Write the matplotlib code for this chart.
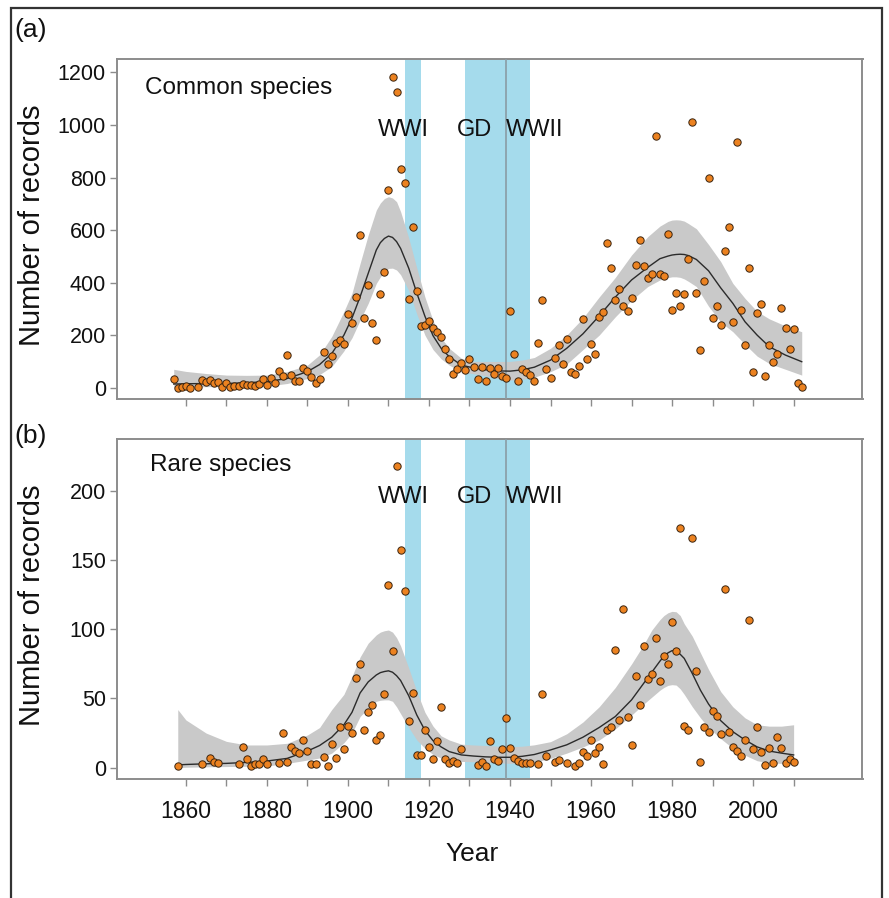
import matplotlib
matplotlib.use("Agg")
import matplotlib.pyplot as plt
from matplotlib.patches import Rectangle

plt.rcParams['font.family'] = ['Liberation Sans', 'DejaVu Sans']

# ---- observed yearly records -------------------------------------------
years_a = list(range(1857, 1862)) + list(range(1863, 2013))
records_a = [
    32, 0, 4, 6, 0,                                   # 1857-1861
    4, 29, 20, 29, 17, 22, 4,                         # 1863-1869
    17, 4, 6, 6, 13, 10, 9, 6, 13, 32,                # 1870s
    9, 36, 19, 65, 44, 124, 48, 27, 27, 76,           # 1880s
    63, 41, 19, 32, 136, 89, 120, 172, 181, 165,      # 1890s
    280, 245, 345, 580, 264, 389, 245, 181, 355, 441, # 1900s
    754, 1184, 1127, 831, 779, 336, 611, 367, 236, 237,
    253, 228, 212, 194, 146, 110, 52, 71, 93, 67,
    108, 80, 34, 80, 25, 74, 52, 74, 44, 36,
    291, 128, 25, 70, 60, 47, 25, 172, 333, 71,
    38, 113, 161, 91, 184, 61, 52, 81, 260, 108,
    165, 128, 270, 288, 551, 456, 332, 374, 312, 293,
    342, 466, 561, 462, 418, 431, 958, 431, 426, 585,
    295, 361, 312, 355, 489, 1010, 359, 143, 405, 797,
    266, 310, 239, 521, 612, 251, 937, 295, 163, 454,
    58, 285, 317, 43, 162, 96, 127, 302, 228, 147,
    224, 18, 1,
]

years_b = [1858, 1864, 1866, 1867, 1868, 1873, 1874, 1875, 1876, 1877, 1878, 1879,
           1880, 1883, 1884, 1885, 1886, 1887, 1888, 1889, 1890, 1891, 1892, 1894,
           1895, 1896, 1897, 1898, 1899, 1900, 1901, 1902, 1903, 1904, 1905, 1906,
           1907, 1908, 1909, 1910, 1911, 1912, 1913, 1914, 1915, 1916, 1917, 1918,
           1919, 1920, 1921, 1922, 1923, 1924, 1925, 1926, 1927, 1928, 1932, 1933,
           1934, 1935, 1936, 1937, 1938, 1939, 1940, 1941, 1942, 1943, 1944, 1945,
           1947, 1948, 1949, 1951, 1952, 1954, 1956, 1957, 1958, 1959, 1960, 1961,
           1962, 1963, 1964, 1965, 1966, 1967, 1968, 1969, 1970, 1971, 1972, 1973,
           1974, 1975, 1976, 1977, 1978, 1979, 1980, 1981, 1982, 1983, 1984, 1985,
           1986, 1987, 1988, 1989, 1990, 1991, 1992, 1993, 1994, 1995, 1996, 1997,
           1998, 1999, 2000, 2001, 2002, 2003, 2004, 2005, 2006, 2007, 2008, 2009,
           2010]
records_b = [1.2, 2.4, 7, 4.3, 3.1, 2.4, 15.2, 6, 1.4, 2.4, 2.4, 6,
             2.4, 3.1, 25.3, 4.1, 15.2, 12, 10.4, 20, 12, 2.4, 2.4, 8,
             1.2, 17.1, 6.7, 29.4, 13.3, 30.1, 25.3, 65, 75, 27.2, 40, 45,
             20, 23.4, 53, 132, 84, 218, 157, 128, 34, 54, 9.2, 9.2,
             27.2, 15.2, 6, 19, 44, 6, 3.1, 4.8, 3.1, 13.3, 1.9, 3.9,
             1.2, 19, 6, 5, 13.3, 36, 14.5, 6.7, 4.8, 3.1, 3.1, 3.1,
             2.4, 53, 8.4, 4.3, 5.3, 3.1, 1.2, 3.1, 11, 8.4, 20, 10.4,
             15.2, 2.4, 27.2, 29.2, 85, 34.5, 115, 36.4, 16.1, 66, 45, 88,
             64, 68, 94, 63, 81, 75, 105, 84, 173, 30.1, 27.2, 166,
             70, 4.1, 29.2, 26, 41, 37, 24, 129, 26, 15.2, 12, 8.4,
             20, 107, 13.3, 29.2, 11, 1.9, 14, 3.1, 22.4, 14, 3.1, 6,
             4.1]

# ---- fitted trend and confidence band ----------------------------------
fit_years_a = [1857, 1860, 1865, 1870, 1875, 1880, 1885, 1890, 1893, 1896, 1899,
               1901, 1903, 1905, 1907, 1908, 1909, 1910, 1911, 1912, 1913, 1915,
               1917, 1919, 1921, 1923, 1925, 1928, 1931, 1934, 1937, 1940, 1943,
               1946, 1950, 1954, 1958, 1962, 1966, 1970, 1974, 1977, 1979, 1980,
               1981, 1982, 1983, 1984, 1986, 1989, 1992, 1995, 1998, 2001, 2004,
               2008, 2012]
fit_a = [14, 15, 16, 16, 19, 23, 35, 61, 88, 130, 200,
         265, 346, 435, 524, 552, 568, 577, 572, 556, 530, 455,
         360, 272, 198, 150, 118, 86, 75, 68, 64, 63, 68,
         78, 105, 150, 205, 273, 345, 410, 458, 491, 501, 505,
         507, 508, 507, 503, 488, 445, 380, 321, 251, 200, 156,
         124, 99]
lo_a = [1, 2, 4, 4, 5, 6, 16, 35, 50, 80, 140,
        190, 257, 321, 397, 422, 440, 454, 455, 448, 430, 370,
        280, 200, 145, 110, 86, 61, 53, 45, 35, 29, 32,
        40, 61, 90, 145, 200, 270, 333, 385, 410, 419, 422,
        422, 420, 414, 405, 385, 310, 250, 213, 165, 120, 92,
        70, 48]
hi_a = [70, 62, 54, 48, 47, 48, 61, 86, 125, 195, 290,
        360, 473, 581, 676, 703, 720, 727, 722, 708, 670, 570,
        455, 345, 255, 190, 150, 112, 100, 100, 100, 100, 105,
        115, 150, 200, 265, 345, 420, 505, 575, 615, 633, 638,
        639, 638, 634, 625, 605, 545, 480, 397, 340, 290, 262,
        235, 213]

fit_years_b = [1858, 1860, 1865, 1870, 1875, 1880, 1885, 1890, 1893, 1896, 1899,
               1901, 1903, 1905, 1907, 1908, 1909, 1910, 1911, 1912, 1913, 1915,
               1917, 1919, 1921, 1923, 1925, 1928, 1931, 1934, 1937, 1940, 1943,
               1946, 1950, 1954, 1958, 1962, 1966, 1970, 1973, 1975, 1977, 1978,
               1979, 1980, 1981, 1982, 1983, 1985, 1987, 1989, 1992, 1995, 1998,
               2001, 2004, 2007, 2010]
fit_b = [2, 2.3, 2.8, 3.1, 3.8, 4.8, 6.7, 12, 16, 22, 31,
         40, 54, 62, 67, 68.7, 69.5, 70, 69, 66.5, 63, 52,
         38, 27, 19.5, 15, 11.6, 9.2, 8.4, 7.8, 7.5, 7.5, 8.2,
         9.5, 12.8, 16.5, 22, 29, 37, 49, 61, 69, 77, 80.5,
         83, 84.6, 84.5, 82, 79, 68, 56, 46, 34, 26, 20,
         15, 12, 10.5, 9.2]
lo_b = [0, 0.3, 0.6, 0.8, 1, 1.2, 3.1, 5.5, 7, 10.5, 18,
        25, 37, 43, 48, 48.7, 49, 49, 48, 44, 39, 29,
        20, 14, 9.5, 7, 5.5, 4.5, 4.3, 4, 3.5, 3.1, 3.3,
        4, 6.7, 10.5, 15, 20, 28, 38, 46, 51, 56, 58,
        59.5, 60, 59.7, 57, 53, 44, 36, 29, 21, 14, 9,
        5, 3.5, 3.1, 3.1]
hi_b = [42, 34.5, 25, 19, 16.4, 16.4, 17.6, 23.6, 29, 42, 53,
        66, 80, 90, 96, 98, 99, 99.5, 98, 94, 88, 72,
        55, 40, 30, 23, 20, 17, 16.4, 16, 15.5, 15.2, 15.5,
        16.5, 18.8, 24.5, 33, 44, 58, 75, 89, 99.5, 107, 110,
        112, 113, 112.7, 110, 104, 95, 83, 71, 55, 44, 36,
        31, 30, 30, 31]

# historical periods
periods = [(1914, 1918), (1929, 1939), (1939, 1945)]
period_labels = ["WWI", "GD", "WWII"]
period_label_x = [1913.8, 1931.3, 1946.1]

x_ticks = list(range(1860, 2011, 10))
x_labels = ["1860", "", "1880", "", "1900", "", "1920", "", "1940", "",
            "1960", "", "1980", "", "2000", ""]

fig = plt.figure(figsize=(8.89, 8.98), dpi=100)
fig.patch.set_facecolor("white")

W, H = 889.0, 898.0
ax_a = fig.add_axes([117 / W, 1 - 399 / H, 745.5 / W, 340 / H])
ax_b = fig.add_axes([117 / W, 1 - 779 / H, 745.5 / W, 340 / H])

panels = [
    (ax_a, years_a, records_a, fit_years_a, fit_a, lo_a, hi_a,
     (-43, 1251), [0, 200, 400, 600, 800, 1000, 1200], "Common species", 1849.8, 1139, 980),
    (ax_b, years_b, records_b, fit_years_b, fit_b, lo_b, hi_b,
     (-8.2, 237.6), [0, 50, 100, 150, 200], "Rare species", 1851.2, 219, 196),
]

for ax, yrs, vals, fyrs, fit, lo, hi, ylim, yticks, title, tx, ty, ly in panels:
    for (s, e) in periods:
        ax.axvspan(s, e, color="#A5DBEC", lw=0, zorder=1)
    ax.fill_between(fyrs, lo, hi, color="#C9C9C9", lw=0, zorder=2)
    ax.axvline(1939, color="#8A9CA4", lw=1.2, zorder=3)
    ax.plot(fyrs, fit, color="#2b2b2b", lw=1.0, zorder=4)
    ax.scatter(yrs, vals, s=28, color="#EC8220", edgecolors="#3a2410",
               linewidths=0.7, zorder=5)

    ax.set_xlim(1843, 2027)
    ax.set_ylim(*ylim)
    ax.set_yticks(yticks)
    ax.set_xticks(x_ticks)
    for sp in ax.spines.values():
        sp.set_color("#8c8c8c")
        sp.set_linewidth(1.4)
    ax.tick_params(axis="both", colors="#8c8c8c", length=5, width=1.0)
    ax.tick_params(axis="y", labelsize=15.5, labelcolor="#111111", pad=3)
    ax.tick_params(axis="x", labelsize=16.5, labelcolor="#111111", pad=10)

    ax.text(tx, ty, title, fontsize=17.5, color="#111111", ha="left", va="center")
    for lx, lab in zip(period_label_x, period_labels):
        ax.text(lx, ly, lab, fontsize=17, color="#111111", ha="center", va="center")

ax_a.set_xticklabels([])
ax_b.set_xticklabels(x_labels)

fig.text(32 / W, 1 - 225 / H, "Number of records", rotation=90, fontsize=21,
         ha="center", va="center", color="#111111")
fig.text(32 / W, 1 - 605 / H, "Number of records", rotation=90, fontsize=21,
         ha="center", va="center", color="#111111")
fig.text(472 / W, 1 - 854 / H, "Year", fontsize=19, ha="center", va="center",
         color="#111111")
fig.text(14 / W, 1 - 30 / H, "(a)", fontsize=19, ha="left", va="center", color="#111111")
fig.text(14 / W, 1 - 436 / H, "(b)", fontsize=19, ha="left", va="center", color="#111111")

# outer frame, open at the bottom
fig.patches.append(Rectangle((11 / W, -0.05), 871 / W, 1.05 - 8 / H, fill=False,
                             edgecolor="#333333", lw=1.6, transform=fig.transFigure))

fig.savefig("out.png", dpi=100)
